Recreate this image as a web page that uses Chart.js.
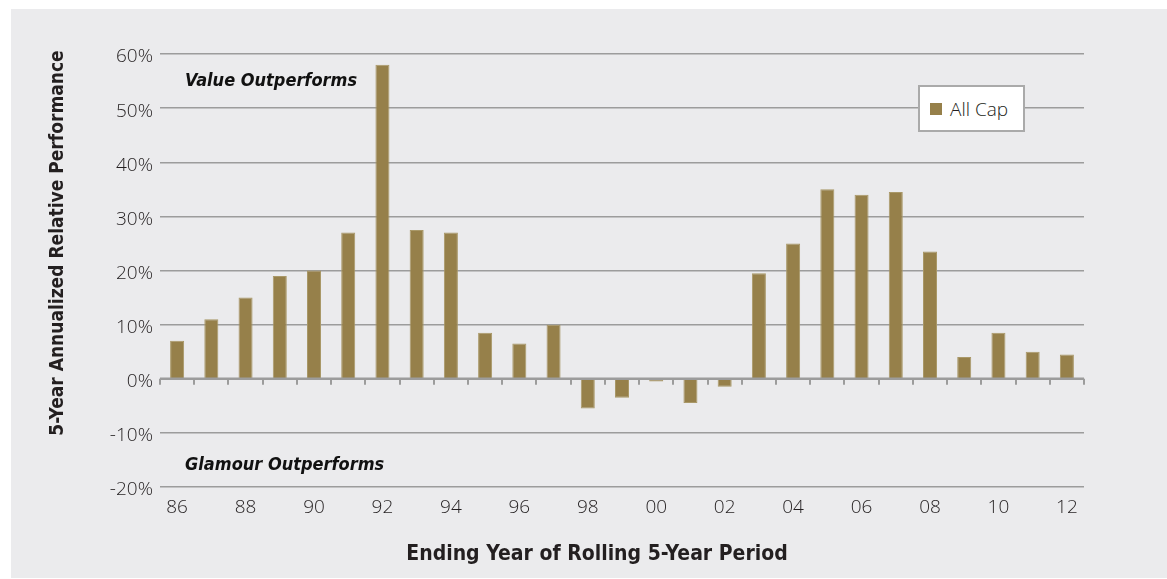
<!DOCTYPE html>
<html>
<head>
<meta charset="utf-8">
<script src="https://cdn.jsdelivr.net/npm/chart.js@4/dist/chart.umd.min.js"></script>
<style>
  html, body { margin: 0; padding: 0; background: #fff; }
  .panel { position: absolute; left: 11px; top: 9px; width: 1156px; height: 569px; background: #ebebed; }
  .wrap { position: absolute; left: 0; top: 0; width: 1167px; height: 579px; }
  .legend-box {
    position: absolute; left: 918px; top: 85px; width: 103px; height: 43px;
    background: #fff; border: 2px solid #aaaaaa;
    font: 300 19px "Open Sans", sans-serif; color: #231f20;
    display: flex; align-items: center;
  }
  .legend-box span.sw { display: inline-block; width: 12px; height: 12px; margin: 0 8px 0 10px; }
</style>
</head>
<body>
<div class="panel"></div>
<div class="wrap"><canvas id="myChart" width="1167" height="579"></canvas></div>
<div class="legend-box" id="legend"></div>
<script>
// 데이터
const years = ['86','87','88','89','90','91','92','93','94','95','96','97','98','99','00','01','02','03','04','05','06','07','08','09','10','11','12'];
const allCap = [7, 11, 15, 19, 20, 27, 58, 27.5, 27, 8.5, 6.5, 10, -5.5, -3.5, -0.5, -4.5, -1.5, 19.5, 25, 35, 34, 34.5, 23.5, 4, 8.5, 5, 4.5];
const yTicks = [-20, -10, 0, 10, 20, 30, 40, 50, 60];

const seriesName = 'All Cap';
const barColor = '#96804a';
const gridColor = '#9c9c9c';
const textColor = '#231f20';
const titleFont = "'Liberation Sans Narrow', 'DejaVu Sans Condensed', sans-serif";
const tickFont = "'Open Sans', sans-serif";

// 범례 (박스 있는 모양이라 html로)
document.getElementById('legend').innerHTML =
  `<span class="sw" style="background:${barColor}"></span>${seriesName}`;

// 0선 + 눈금, 주석 텍스트, 축 제목
const extras = {
  id: 'extras',
  afterDatasetsDraw(chart) {
    const ctx = chart.ctx;
    const xs = chart.scales.x, ys = chart.scales.y;
    const y0 = ys.getPixelForValue(0);
    const step = xs.width / years.length;
    ctx.save();
    ctx.strokeStyle = gridColor;
    ctx.lineWidth = 2.5;
    ctx.beginPath();
    ctx.moveTo(xs.left, y0);
    ctx.lineTo(xs.right, y0);
    ctx.stroke();
    ctx.lineWidth = 2;
    for (let i = 0; i <= years.length; i++) {
      const x = Math.round(xs.left + step * i);
      ctx.beginPath();
      ctx.moveTo(x, y0);
      ctx.lineTo(x, y0 + 6);
      ctx.stroke();
    }
    // 주석
    ctx.fillStyle = '#111';
    ctx.font = "italic bold 18px " + titleFont;
    ctx.textBaseline = 'middle';
    ctx.textAlign = 'left';
    ctx.fillText('Value Outperforms', xs.left + 25, ys.getPixelForValue(55));
    ctx.fillText('Glamour Outperforms', xs.left + 25, ys.getPixelForValue(-16));
    // x축 제목 (원본은 살짝 왼쪽으로 치우침)
    ctx.fillStyle = textColor;
    ctx.textAlign = 'center';
    ctx.font = "bold 21px " + titleFont;
    ctx.fillText('Ending Year of Rolling 5-Year Period', 597, 555);
    // y축 제목
    ctx.font = "bold 19px " + titleFont;
    ctx.translate(58, 243);
    ctx.rotate(-Math.PI / 2);
    ctx.fillText('5-Year Annualized Relative Performance', 0, 0);
    ctx.restore();
  }
};

const ctx = document.getElementById('myChart').getContext('2d');
const myChart = new Chart(ctx, {
  type: 'bar',
  data: {
    labels: years,
    datasets: [{
      label: seriesName,
      data: allCap,
      backgroundColor: barColor,
      borderColor: '#a99868',
      borderWidth: 1,
      barPercentage: 0.41,
      categoryPercentage: 1
    }]
  },
  options: {
    responsive: false,
    animation: false,
    layout: { padding: { left: 0, right: 83, top: 54, bottom: 0 } },
    plugins: { legend: { display: false }, tooltip: { enabled: false } },
    scales: {
      x: {
        grid: { display: false },
        border: { display: false },
        ticks: {
          autoSkip: false,
          maxRotation: 0,
          padding: 1,
          color: textColor,
          font: { family: tickFont, size: 19, weight: 300 },
          callback: (v, i) => (i % 2 === 0 ? years[i] : '')
        },
        afterFit(scale) { scale.height = 579 - 487; }
      },
      y: {
        min: -20,
        max: 60,
        afterBuildTicks(scale) { scale.ticks = yTicks.map(v => ({ value: v })); },
        grid: { color: gridColor, lineWidth: 1.5, drawTicks: false },
        border: { display: false },
        ticks: {
          padding: 7,
          labelOffset: 3,
          color: textColor,
          font: { family: tickFont, size: 19, weight: 300 },
          callback: v => v + '%'
        },
        afterFit(scale) { scale.width = 160; }
      }
    }
  },
  plugins: [extras]
});
</script>
</body>
</html>
